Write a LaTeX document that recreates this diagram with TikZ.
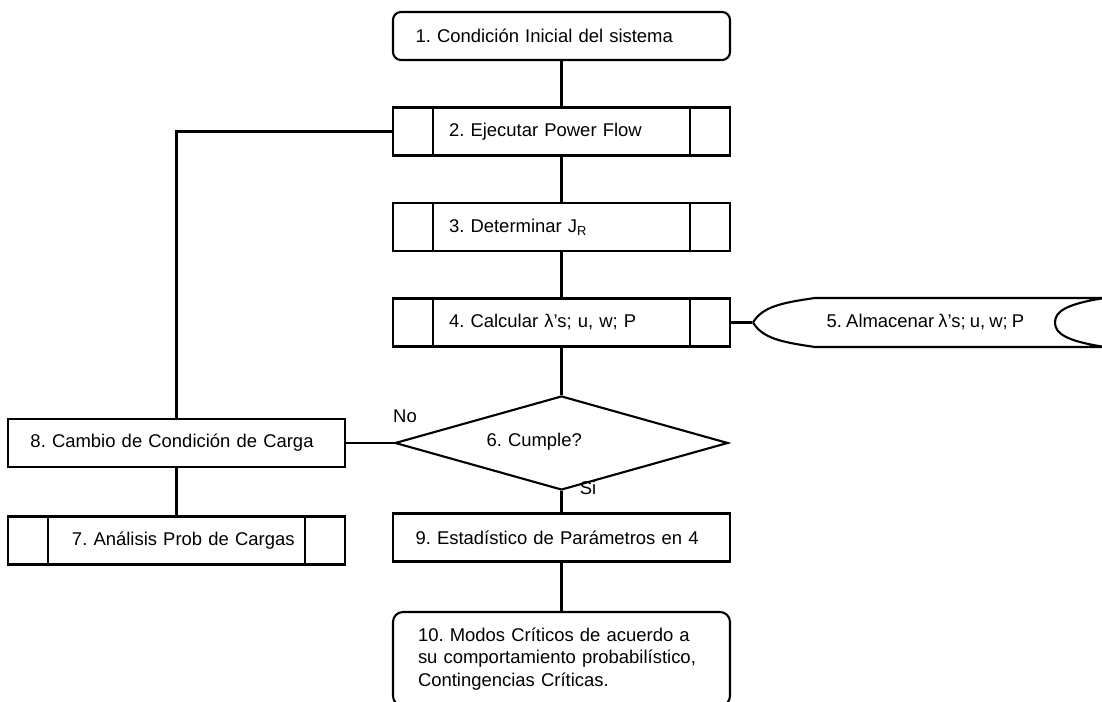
\documentclass[tikz,border=0pt]{standalone}
\usepackage{fontspec}
\setmainfont{Liberation Sans}[WordSpace=0.8]
\usetikzlibrary{shapes.geometric}

\begin{document}
\begin{tikzpicture}[line width=1.2pt, font=\fontsize{10.5}{13}\selectfont\frenchspacing,
    box/.style={draw, minimum height=0.96cm, text width=6.74cm, inner xsep=0pt, align=left, execute at begin node={\hspace*{#1}}},
    box/.default=0.45cm,
    terminal/.style={box=#1, rounded corners=0.16cm},
    terminal/.default=0.45cm,
    predef/.style={box=#1, path picture={
        \draw ([xshift=0.8cm]path picture bounding box.north west) -- ([xshift=0.8cm]path picture bounding box.south west)
              ([xshift=-0.8cm]path picture bounding box.north east) -- ([xshift=-0.8cm]path picture bounding box.south east);}},
    predef/.default=1.12cm,
    decision/.style={draw, diamond, aspect=3.54, minimum width=6.66cm, minimum height=1.88cm, inner sep=0pt, text width=3cm, align=left},
    storage/.style={minimum width=6.9cm, minimum height=0.98cm, inner sep=0pt}]
    \useasboundingbox (0,0) rectangle (22.04,14.04);

    % main column
    \node[terminal] (b1) at (11.23,13.32) {1. Condición Inicial del sistema};
    \node[predef] (b2) at (11.23,11.41) {2. Ejecutar Power Flow};
    \node[predef] (b3) at (11.23,9.5) {3. Determinar J\textsubscript{R}};
    \node[predef] (b4) at (11.23,7.59) {4. Calcular λ's; u, w; P};
    \node[decision] (d6) at (11.23,5.18) {\raisebox{0.14cm}{6. Cumple?}};
    \node[box] (b9) at (11.23,3.29) {9. Estadístico de Parámetros en 4};
    \node[draw, rounded corners=0.2cm, minimum height=1.88cm, text width=5.74cm, inner xsep=0.5cm, align=left] (b10) at (11.23,0.86)
        {10. Modos Críticos de acuerdo a\\ su comportamiento probabilístico,\\ Contingencias Críticas.};

    % stored data
    \node[storage] (b5) at (18.51,7.59) {5. Almacenar λ's; u, w; P};
    \draw (15.06,7.59) .. controls (15.25,7.9) and (15.6,7.98) .. (16.3,8.08) -- (22.1,8.08)
          .. controls (21.3,7.96) and (21.1,7.8) .. (21.1,7.59)
          .. controls (21.1,7.38) and (21.3,7.22) .. (22.1,7.1) -- (16.3,7.1)
          .. controls (15.6,7.2) and (15.25,7.28) .. (15.06,7.59);

    % left column
    \node[box] (b8) at (3.53,5.18) {8. Cambio de Condición de Carga};
    \node[predef=1.28cm] (b7) at (3.53,3.23) {7. Análisis Prob de Cargas};

    % labels
    \node (no) at (8.1,5.72) {No};
    \node (si) at (11.76,4.28) {Si};

    % connectors
    \draw (b1) -- (b2);
    \draw (b2) -- (b3);
    \draw (b3) -- (b4);
    \draw (b4) -- (d6);
    \draw (b4.east) -- (b5.west);
    \draw (d6.west) -- (b8.east);
    \draw (d6.south) -- (b9.north);
    \draw (b9) -- (b10);
    \draw (b8.north) |- (b2.west);
    \draw (b8) -- (b7);
\end{tikzpicture}
\end{document}
